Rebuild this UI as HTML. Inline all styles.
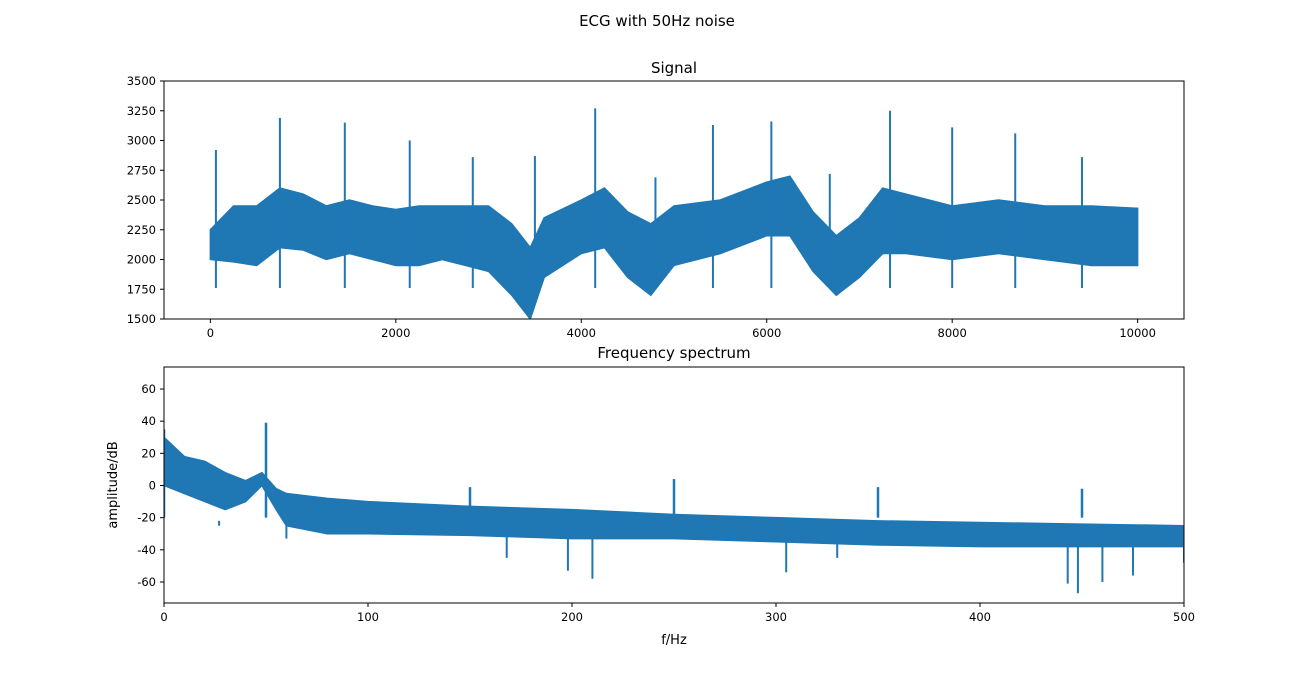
<!DOCTYPE html>
<html><head><meta charset="utf-8"><style>
body{margin:0;background:#fff;}
svg{display:block;font-family:"DejaVu Sans","Liberation Sans",sans-serif;}
</style></head><body>
<svg id="fig" width="1315" height="679">
<text x="657" y="26" text-anchor="middle" font-size="15">ECG with 50Hz noise</text>
<text x="674" y="73" text-anchor="middle" font-size="15">Signal</text>
<text x="674" y="358" text-anchor="middle" font-size="15">Frequency spectrum</text>
<g id="top"></g><g id="bot"></g>
</svg>
<script>
// Signal data
const sigX = [0,250,500,750,1000,1250,1500,1750,2000,2250,2500,2750,3000,3250,3450,3600,4000,4250,4500,4750,5000,5500,6000,6250,6500,6750,7000,7250,7500,8000,8500,9000,9500,10000];
const sigUpper = [2250,2450,2450,2600,2550,2450,2500,2450,2420,2450,2450,2450,2450,2300,2100,2350,2500,2600,2400,2300,2450,2500,2650,2700,2400,2200,2350,2600,2550,2450,2500,2450,2450,2430];
const sigLower = [2000,1980,1950,2100,2080,2000,2050,2000,1950,1950,2000,1950,1900,1700,1500,1850,2050,2100,1850,1700,1950,2050,2200,2200,1900,1700,1850,2050,2050,2000,2050,2000,1950,1950];
const peakX = [60,750,1450,2150,2830,3500,4150,4800,5420,6050,6680,7330,8000,8680,9400];
const peakY = [2920,3190,3150,3000,2860,2870,3270,2690,3130,3160,2720,3250,3110,3060,2860];
const sigYTicks = [1500,1750,2000,2250,2500,2750,3000,3250,3500];
const sigXTicks = [0,2000,4000,6000,8000,10000];
// Spectrum data
const fX = [0,10,20,30,40,48,55,60,80,100,150,200,250,300,350,400,450,500];
const fUpper = [30,18,15,8,3,8,-2,-5,-8,-10,-13,-15,-18,-20,-22,-23,-24,-25];
const fLower = [0,-5,-10,-15,-10,0,-15,-25,-30,-30,-31,-33,-33,-35,-37,-38,-38,-38];
const spikeUpF = [0,50,150,250,350,450];
const spikeUpV = [35,39,-1,4,-1,-2];
const spikeDnF = [27,60,168,198,210,305,330,443,448,460,475,500];
const spikeDnV = [-22,-33,-45,-53,-58,-54,-45,-61,-67,-60,-56,-48];
const fYTicks = [-60,-40,-20,0,20,40,60];
const fXTicks = [0,100,200,300,400,500];

const NS="http://www.w3.org/2000/svg";
function mk(p,t,a){const e=document.createElementNS(NS,t);for(const k in a)e.setAttribute(k,a[k]);p.appendChild(e);return e;}
const C="#1f77b4";
function axes(g,L,T,R,B,sx,sy,xt,yt,name){
  const fr=mk(g,'rect',{x:L,y:T,width:R-L,height:B-T,fill:'none',stroke:'#000','stroke-width':1});
  
  
  xt.forEach(v=>{const x=sx(v);mk(g,'line',{x1:x,x2:x,y1:B,y2:B+4,stroke:'#000'});
    const t=mk(g,'text',{x:x,y:B+18,'text-anchor':'middle','font-size':11.5});t.textContent=v;
    
    });
  yt.forEach(v=>{const y=sy(v);mk(g,'line',{x1:L-4,x2:L,y1:y,y2:y,stroke:'#000'});
    const t=mk(g,'text',{x:L-8,y:y+4,'text-anchor':'end','font-size':11.5});t.textContent=v;
    
    });
}
// top
(function(){
  const g=document.getElementById('top');const L=164,T=81,R=1184,B=319;
  const sx=v=>L+(v+500)/11000*(R-L), sy=v=>B-(v-1500)/2000*(B-T);
  const cp=mk(g,'clipPath',{id:'c1'});mk(cp,'rect',{x:L,y:T,width:R-L,height:B-T});
  const d=mk(g,'g',{'clip-path':'url(#c1)'});
  let pts=sigX.map((x,i)=>sx(x)+','+sy(sigUpper[i]));
  for(let i=sigX.length-1;i>=0;i--)pts.push(sx(sigX[i])+','+sy(sigLower[i]));
  const band=mk(d,'polygon',{points:pts.join(' '),fill:C,stroke:C,'stroke-width':1.5});
  
  
  peakX.forEach((x,i)=>{const l=mk(d,'line',{x1:sx(x),x2:sx(x),y1:sy(peakY[i]),y2:sy(1760),stroke:C,'stroke-width':2});
    
    });
  axes(g,L,T,R,B,sx,sy,sigXTicks,sigYTicks,'signal');
})();
// bottom
(function(){
  const g=document.getElementById('bot');const L=164,T=367,R=1184,B=603;
  const sx=v=>L+v/500*(R-L), sy=v=>485.5-v*1.608;
  const cp=mk(g,'clipPath',{id:'c2'});mk(cp,'rect',{x:L,y:T,width:R-L,height:B-T});
  const d=mk(g,'g',{'clip-path':'url(#c2)'});
  let pts=fX.map((x,i)=>sx(x)+','+sy(fUpper[i]));
  for(let i=fX.length-1;i>=0;i--)pts.push(sx(fX[i])+','+sy(fLower[i]));
  const band=mk(d,'polygon',{points:pts.join(' '),fill:C,stroke:C,'stroke-width':1.5});
  
  
  spikeUpF.forEach((f,i)=>{const l=mk(d,'line',{x1:sx(f),x2:sx(f),y1:sy(spikeUpV[i]),y2:sy(-20),stroke:C,'stroke-width':2.5});
    
    });
  spikeDnF.forEach((f,i)=>{const l=mk(d,'line',{x1:sx(f),x2:sx(f),y1:sy(spikeDnV[i]),y2:sy(-25),stroke:C,'stroke-width':2});
    
    });
  axes(g,L,T,R,B,sx,sy,fXTicks,fYTicks,'spectrum');
  const xl=mk(g,'text',{x:674,y:644,'text-anchor':'middle','font-size':13});xl.textContent='f/Hz';
  
  
  const yl=mk(g,'text',{x:117,y:485,'text-anchor':'middle','font-size':13,transform:'rotate(-90 117 485)'});yl.textContent='amplitude/dB';
  
  
})();
</script>
</body></html>
